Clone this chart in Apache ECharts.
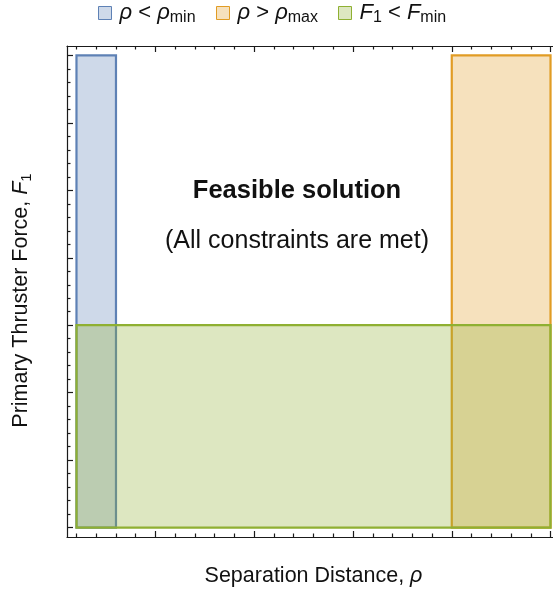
<!DOCTYPE html>
<html>
<head>
<meta charset="utf-8">
<script src="https://cdn.jsdelivr.net/npm/echarts@6/dist/echarts.min.js"></script>
<style>
  html, body { margin: 0; padding: 0; background: #fff; }
  #chart { width: 553px; height: 593px; }
</style>
</head>
<body>
<div id="chart"></div>
<script>
// Constraint regions: [rhoStart, rhoEnd, forceStart, forceEnd]
const regionNames = ['rhoLow', 'rhoHigh', 'forceLow'];
const rhoLowRegion = [0.2, 0.6, 0, 7];
const rhoHighRegion = [4, 5, 0, 7];
const forceLowRegion = [0.2, 5, 0, 3];

const regionFills = ['rgba(94,129,181,0.3)', 'rgba(225,156,36,0.3)', 'rgba(143,176,50,0.3)'];
const regionStrokes = ['#5E81B5', '#E19C24', '#8FB032'];

// Axis extents (data range plus a small margin) and tick positions
const xRange = [0.104, 5.096];
const yRange = [-0.14, 7.14];
const xMajorTicks = [1, 2, 3, 4, 5];
const xMinorTicks = [0.2, 0.4, 0.6, 0.8, 1.2, 1.4, 1.6, 1.8, 2.2, 2.4, 2.6, 2.8,
  3.2, 3.4, 3.6, 3.8, 4.2, 4.4, 4.6, 4.8];
const yMajorTicks = [0, 1, 2, 3, 4, 5, 6, 7];
const yMinorTicks = [0.2, 0.4, 0.6, 0.8, 1.2, 1.4, 1.6, 1.8, 2.2, 2.4, 2.6, 2.8,
  3.2, 3.4, 3.6, 3.8, 4.2, 4.4, 4.6, 4.8, 5.2, 5.4, 5.6, 5.8, 6.2, 6.4, 6.6, 6.8];

const FONT = '"Liberation Sans", Arial, sans-serif';
const frameColor = '#1a1a1a';
const textColor = '#111';

const chart = echarts.init(document.getElementById('chart'), null, { renderer: 'canvas' });

function makeAxis(position, range, ticks, len, showLine, extra) {
  return Object.assign({
    type: 'value',
    position: position,
    min: range[0],
    max: range[1],
    axisLine: { show: showLine, onZero: false, lineStyle: { color: frameColor, width: 1.2 } },
    axisTick: { show: true, inside: true, length: len, customValues: ticks,
      lineStyle: { color: frameColor, width: 1.2 } },
    axisLabel: { show: false },
    splitLine: { show: false }
  }, extra || {});
}

function richStyles(size, subSize, lh) {
  return {
    i: { fontFamily: FONT, fontStyle: 'italic', fontSize: size, lineHeight: lh, color: textColor },
    t: { fontFamily: FONT, fontSize: size, lineHeight: lh, color: textColor },
    s: { fontFamily: FONT, fontSize: subSize, lineHeight: subSize, verticalAlign: 'bottom', color: textColor }
  };
}
const legendRich = richStyles(22, 16, 26);
const axisRich = richStyles(21.5, 15, 25);

function regionSeries(idx, region) {
  return {
    type: 'custom',
    name: regionNames[idx],
    xAxisIndex: 0,
    yAxisIndex: 0,
    itemStyle: { color: regionFills[idx] },
    data: [region],
    renderItem: function (params, api) {
      const p0 = api.coord([api.value(0), api.value(3)]);
      const p1 = api.coord([api.value(1), api.value(2)]);
      return {
        type: 'rect',
        shape: { x: p0[0], y: p0[1], width: p1[0] - p0[0], height: p1[1] - p0[1] },
        style: { fill: regionFills[idx], stroke: regionStrokes[idx], lineWidth: 2.2 }
      };
    }
  };
}

const legendLabels = {
  rhoLow: '{i|ρ}{t| < }{i|ρ}{s|min}',
  rhoHigh: '{i|ρ}{t| > }{i|ρ}{s|max}',
  forceLow: '{i|F}{s|1}{t| < }{i|F}{s|min}'
};

function legendFor(idx, left) {
  return {
    show: true,
    left: left,
    top: -3,
    itemWidth: 13,
    itemHeight: 13,
    itemGap: 0,
    selectedMode: false,
    data: [{ name: regionNames[idx], icon: 'rect',
      itemStyle: { color: regionFills[idx], borderColor: regionStrokes[idx], borderWidth: 1 } }],
    formatter: function (name) { return legendLabels[name]; },
    textStyle: { rich: legendRich, padding: [0, 0, 0, 3] }
  };
}

chart.setOption({
  animation: false,
  backgroundColor: '#fff',
  grid: { left: 67, top: 46, width: 493, height: 491, containLabel: false, outerBoundsMode: 'none' },
  legend: [legendFor(0, 93), legendFor(1, 211), legendFor(2, 333)],
  xAxis: [
    makeAxis('bottom', xRange, xMajorTicks, 6, true, {
      name: '{t|Separation Distance, }{i|ρ}',
      nameLocation: 'middle',
      nameGap: 27,
      nameTextStyle: { rich: axisRich }
    }),
    makeAxis('bottom', xRange, xMinorTicks, 3.5, false),
    makeAxis('top', xRange, xMajorTicks, 6, true),
    makeAxis('top', xRange, xMinorTicks, 3.5, false)
  ],
  yAxis: [
    makeAxis('left', yRange, yMajorTicks, 6, true, {
      name: '{t|Primary Thruster Force, }{i|F}{s|1}',
      nameLocation: 'middle',
      nameGap: 33,
      nameRotate: 90,
      nameTextStyle: { rich: axisRich, padding: [0, 18, 0, 0] }
    }),
    makeAxis('left', yRange, yMinorTicks, 3.5, false),
    makeAxis('right', yRange, yMajorTicks, 6, true),
    makeAxis('right', yRange, yMinorTicks, 3.5, false)
  ],
  series: [
    regionSeries(0, rhoLowRegion),
    regionSeries(1, rhoHighRegion),
    regionSeries(2, forceLowRegion)
  ],
  graphic: [
    {
      type: 'text', x: 297, y: 191,
      style: { text: 'Feasible solution', fontFamily: FONT, fontWeight: 'bold', fontSize: 25.5,
        fill: textColor, textAlign: 'center', textVerticalAlign: 'middle' }
    },
    {
      type: 'text', x: 297, y: 241,
      style: { text: '(All constraints are met)', fontFamily: FONT, fontSize: 25,
        fill: textColor, textAlign: 'center', textVerticalAlign: 'middle' }
    }
  ]
});
</script>
</body>
</html>
